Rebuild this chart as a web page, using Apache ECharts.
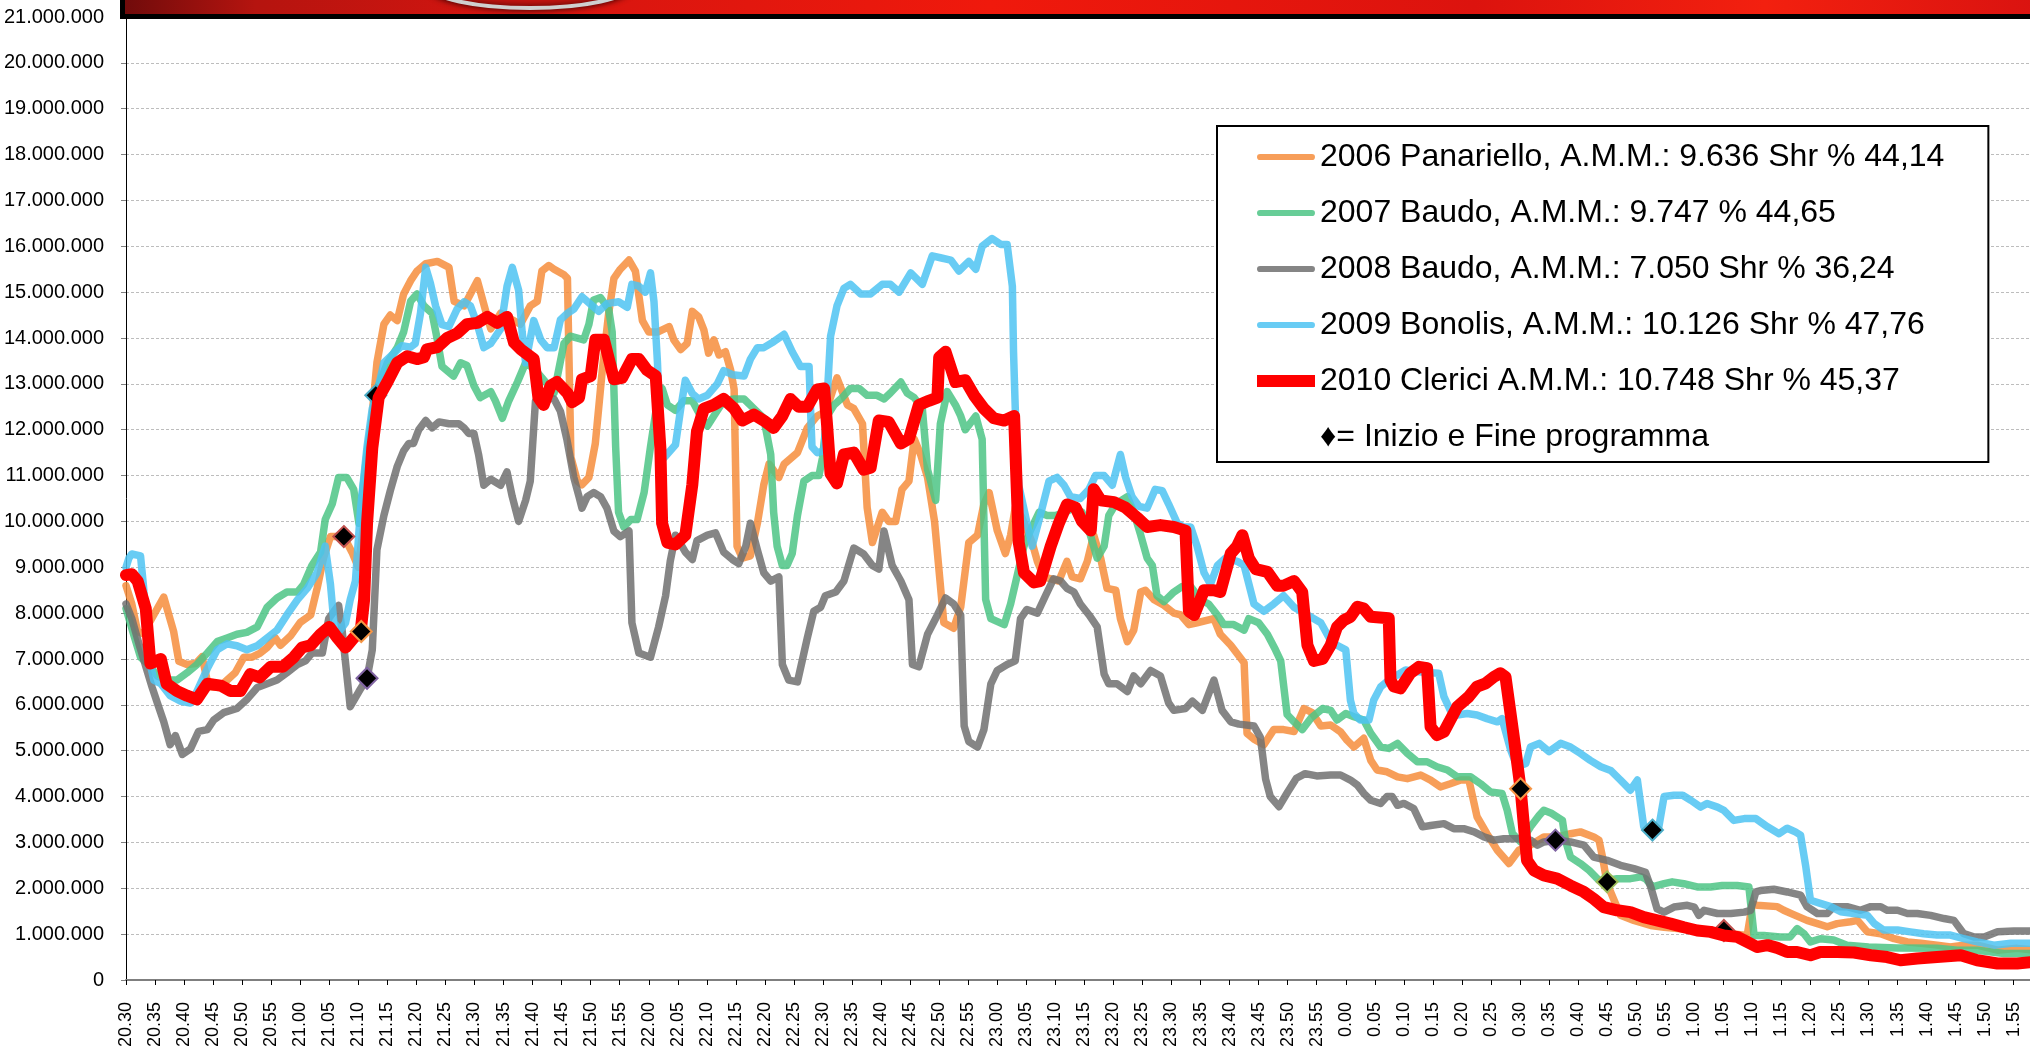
<!DOCTYPE html>
<html>
<head>
<meta charset="utf-8">
<script src="https://cdn.jsdelivr.net/npm/echarts@6/dist/echarts.min.js"></script>
<style>
  html, body { margin: 0; padding: 0; background: #fff; }
  #chart { width: 2030px; height: 1049px; }
</style>
</head>
<body>
<div id="chart"></div>
<script>
// minutes after 20.30, audience in millions
var orange2006 = [[0,8.6],[1,8.2],[2,7.6],[3,7.55],[4.5,7.9],[6.5,8.35],[8.2,7.6],[9.1,6.95],[10.5,6.88],[12,6.9],[13.1,7.05],[14.2,6.4],[16,6.38],[17.4,6.54],[18.8,6.7],[20.3,7.04],[21.7,7.04],[23.1,7.13],[24.3,7.25],[25.7,7.46],[26.6,7.3],[28.3,7.5],[30,7.8],[31.8,7.96],[32.9,8.54],[34,9.2],[35.2,9.67],[37.5,9.67],[38.9,9.33],[40,9.0],[41.5,10.5],[42.5,12.5],[43.2,13.46],[44.4,14.3],[45.5,14.5],[46.7,14.38],[47.8,14.96],[49,15.25],[50.1,15.46],[51.6,15.62],[53.6,15.67],[55.6,15.54],[56.5,14.8],[58.2,14.7],[59.3,14.96],[60.5,15.25],[61.9,14.6],[62.8,14.2],[64.5,14.54],[65.6,14.46],[67.9,14.3],[69.6,14.7],[70.8,14.8],[71.6,15.46],[72.8,15.58],[73.7,15.5],[75.4,15.38],[76,15.3],[76.6,11.4],[77.7,10.88],[78.5,10.8],[79.7,10.96],[80.8,11.7],[82,13.3],[83.1,14.54],[84,15.3],[85.1,15.5],[86.6,15.7],[87.7,15.46],[88.9,14.38],[90,14.13],[91.5,14.13],[93.5,14.25],[94.3,13.96],[95.5,13.75],[96.6,13.88],[97.5,14.58],[98.6,14.46],[99.5,14.17],[100.3,13.67],[101.2,13.96],[102.1,13.63],[103.2,13.7],[104.1,13.3],[104.7,12.88],[105.2,9.46],[106.1,9.2],[107.5,9.25],[108.7,9.96],[109.8,10.8],[110.7,11.25],[112.4,10.96],[113.3,11.25],[115.6,11.5],[117.3,12.04],[119,12.3],[120.5,12.4],[122.4,13.13],[124.2,12.54],[125.3,12.46],[126.8,12.13],[127.6,10.3],[128.5,9.54],[130.2,10.2],[131.3,10.0],[132.5,10.0],[133.6,10.7],[134.8,10.88],[135.7,11.8],[136.8,11.46],[138,10.96],[139.2,10.0],[140.8,7.79],[142.5,7.67],[143.7,8.13],[145.1,9.54],[146.6,9.7],[147.7,10.38],[148.6,10.63],[150,9.8],[151.4,9.3],[152.3,9.7],[153.1,10.3],[154.2,10.1],[156,9.54],[156.9,9.13],[158,8.79],[160.6,8.7],[162,9.13],[162.9,8.79],[164.3,8.75],[165.5,9.13],[166.6,9.7],[167.8,9.2],[168.9,8.54],[170.4,8.5],[171.2,7.88],[172.4,7.38],[173.5,7.63],[174.7,8.46],[175.5,8.5],[177,8.29],[178.7,8.17],[180.4,8.0],[181.6,7.96],[183,7.75],[184.4,7.79],[187.3,7.88],[188.4,7.54],[190.2,7.3],[192.5,6.92],[193,5.38],[194.2,5.25],[195.9,5.13],[197.6,5.46],[199.3,5.46],[201.1,5.42],[202.8,5.92],[204.2,5.83],[205.7,5.54],[207.4,5.56],[209.1,5.41],[210.2,5.23],[211.4,5.08],[213.1,5.27],[214.3,4.79],[215.4,4.58],[217.1,4.54],[218.9,4.43],[220.6,4.39],[222.9,4.47],[224.6,4.36],[226.3,4.21],[228,4.28],[229.8,4.36],[231.2,4.36],[232.6,3.56],[234.3,3.19],[236.1,2.83],[238.1,2.54],[239.8,2.83],[241.8,2.94],[244.1,3.12],[246.4,3.12],[248.7,3.19],[250.4,3.23],[252.7,3.12],[253.6,3.05],[254.2,2.68],[255,2.1],[257.3,1.41],[259.6,1.3],[262.5,1.19],[264.8,1.15],[267.6,1.12],[270.5,1.08],[273.4,1.05],[276.3,1.01],[279.1,0.97],[280,1.66],[280.8,1.63],[284.3,1.6],[285.4,1.52],[287,1.43],[289.4,1.3],[291.2,1.23],[292.9,1.16],[294.6,1.23],[296.9,1.27],[298.1,1.3],[299.8,1.05],[302.1,1.01],[304.4,0.9],[306.7,0.83],[309,0.8],[311.8,0.76],[314.1,0.72],[316.4,0.76],[318.7,0.76],[322.2,0.65],[325.6,0.69],[328,0.66]];

var green2007 = [[0,8.1],[1.3,7.54],[2.5,7.04],[3.9,6.88],[5.4,6.63],[7.1,6.54],[8.8,6.54],[10.5,6.7],[12.2,6.88],[14,7.13],[15.7,7.38],[17.4,7.46],[19.1,7.54],[20.8,7.58],[22.6,7.7],[24.3,8.13],[26,8.33],[27.7,8.46],[29.5,8.46],[30.6,8.63],[32,9.04],[33.5,9.33],[34.3,10.04],[35.5,10.38],[36.6,10.96],[38,10.96],[39.2,10.7],[40.1,9.96],[41.5,11.5],[43,12.8],[45,13.46],[46.7,13.79],[47.8,14.13],[49,14.8],[50.1,14.96],[51.3,14.7],[52.7,14.54],[53.6,13.96],[54.4,13.38],[56.4,13.17],[57.6,13.46],[58.7,13.4],[59.9,12.96],[61,12.7],[62.8,12.83],[63.6,12.63],[64.8,12.25],[65.9,12.63],[67.4,13.04],[68.8,13.46],[70.5,13.3],[72.5,13.0],[73.7,12.8],[75.4,13.88],[76.5,14.04],[78.8,13.96],[79.7,14.3],[80.5,14.83],[81.7,14.88],[83.1,14.63],[83.7,14.13],[84.3,11.63],[84.8,10.2],[85.7,9.88],[86.9,10.04],[88,10.04],[89.2,10.63],[90.3,11.63],[91.2,12.38],[92.3,12.9],[93.2,12.54],[94.6,12.42],[96,12.63],[97.5,12.63],[98.9,12.3],[100.1,12.08],[101.2,12.3],[102.9,12.63],[104.7,12.67],[106.4,12.67],[108.1,12.46],[109.8,12.25],[111,11.46],[111.5,10.2],[112.1,9.46],[113,9.04],[113.8,9.04],[114.7,9.3],[115.6,10.13],[116.7,10.88],[118.1,11.0],[119.3,11.0],[119.9,11.38],[120.7,12.3],[121.9,12.54],[123.3,12.7],[124.7,12.9],[126.2,12.9],[127.6,12.75],[129.3,12.75],[130.5,12.67],[131.6,12.8],[133.4,13.04],[134.5,12.8],[135.7,12.7],[137.1,12.46],[138,11.13],[139.4,10.46],[140.2,12.13],[141.4,12.83],[142.8,12.54],[143.7,12.3],[144.5,12.0],[146.3,12.3],[147.4,11.79],[148,8.3],[148.9,7.88],[151.2,7.75],[152.3,8.2],[153.4,8.8],[154.6,9.46],[155.7,9.8],[157.2,10.2],[158.6,10.13],[160,10.13],[161.7,10.2],[163.2,10.3],[164.6,10.2],[165.8,9.8],[167.2,9.2],[168.4,9.46],[169.2,10.13],[170.4,10.38],[172.4,10.54],[173.5,10.2],[174.7,9.7],[175.8,9.2],[176.7,9.04],[177.5,8.38],[178.7,8.25],[180.4,8.46],[181.8,8.58],[183.3,8.58],[185,8.29],[186.4,8.2],[187.9,7.96],[189,7.75],[190.7,7.75],[192.5,7.63],[193.3,7.88],[195,7.79],[196.5,7.54],[197.9,7.2],[198.8,6.96],[199.9,5.79],[201.1,5.63],[202.5,5.46],[204,5.71],[206,5.92],[207.4,5.88],[208.5,5.67],[210,5.81],[211.4,5.74],[213.1,5.67],[214.3,5.38],[216,5.08],[217.4,5.05],[218.9,5.16],[220.6,4.94],[222.3,4.76],[224,4.76],[225.7,4.65],[227.5,4.58],[229.2,4.43],[231.5,4.43],[233.2,4.28],[234.9,4.1],[236.9,4.07],[237.8,3.7],[238.7,3.19],[240.1,3.01],[241.8,3.34],[243.3,3.59],[244.1,3.7],[245.5,3.63],[247.3,3.48],[247.8,3.05],[248.7,2.68],[250.4,2.54],[251.9,2.39],[253.6,2.17],[255,2.17],[256.7,2.21],[259,2.21],[260.8,2.25],[261.6,2.21],[262.8,2.03],[264.8,2.1],[266.2,2.14],[268.2,2.1],[270.5,2.03],[272.8,2.03],[274.8,2.06],[277.4,2.06],[279.4,2.03],[280.3,0.97],[282,0.97],[284.8,0.94],[286.5,0.94],[287.7,1.12],[288.9,1.01],[290,0.83],[291.7,0.9],[294,0.87],[296.3,0.76],[300,0.72],[305,0.7],[311.8,0.69],[315.3,0.65],[318.7,0.65],[323.3,0.58],[328,0.58]];

var grey2008 = [[0,8.2],[1,7.88],[2.3,7.3],[3.9,6.63],[4.5,6.38],[5.4,6.04],[6.5,5.63],[7.6,5.13],[8.5,5.33],[9.7,4.92],[11.1,5.04],[12.5,5.42],[14,5.46],[15.1,5.67],[16.8,5.83],[19.1,5.92],[20.9,6.13],[22.6,6.38],[24.3,6.46],[26,6.54],[27.7,6.7],[29.5,6.88],[30.9,6.96],[32,7.13],[33.8,7.13],[34.9,7.88],[35.8,8.04],[36.6,8.17],[37.2,7.63],[38.6,5.96],[40.1,6.29],[41.5,6.58],[42.4,7.2],[43.2,9.38],[44.4,10.13],[45.5,10.67],[46.7,11.2],[47.8,11.54],[48.7,11.7],[49.5,11.7],[50.4,12.0],[51.6,12.2],[52.7,12.04],[53.9,12.17],[55.6,12.13],[57.3,12.13],[58.2,12.04],[59,11.92],[59.9,11.92],[60.7,11.46],[61.6,10.79],[62.8,10.92],[64.5,10.79],[65.6,11.08],[66.5,10.54],[67.6,10.0],[68.8,10.46],[69.6,10.88],[70.5,12.63],[71.4,12.7],[73.7,12.67],[74.8,12.4],[75.9,11.79],[77.1,10.96],[78,10.54],[78.5,10.29],[79.4,10.54],[80.5,10.63],[81.7,10.54],[82.8,10.29],[84,9.79],[85.1,9.67],[86.6,9.79],[87.1,7.79],[88.3,7.13],[90.3,7.04],[91.7,7.7],[92.9,8.38],[93.7,9.13],[94.6,9.7],[96.3,9.33],[97.5,9.17],[98.3,9.58],[100.1,9.7],[101.5,9.75],[102.9,9.33],[104.4,9.17],[105.5,9.08],[106.7,9.46],[107.5,9.96],[108.7,9.38],[109.8,8.88],[111,8.7],[112.4,8.79],[113,6.88],[114.1,6.54],[115.6,6.5],[117.3,7.46],[118.4,8.04],[119.6,8.13],[120.4,8.38],[122.2,8.46],[123.6,8.7],[125.3,9.42],[127,9.29],[128.5,9.04],[129.6,8.96],[130.5,9.79],[131.9,9.04],[133.4,8.7],[134.8,8.29],[135.4,6.88],[136.5,6.83],[138,7.54],[139.7,7.96],[141.1,8.33],[142.5,8.2],[143.7,7.96],[144.3,5.54],[145.1,5.2],[146.6,5.08],[147.7,5.46],[148.9,6.46],[150,6.75],[151.7,6.88],[153.1,6.96],[154,7.88],[155.1,8.08],[156.9,8.0],[158.3,8.38],[159.7,8.75],[160.9,8.7],[162,8.54],[163.2,8.46],[164.3,8.2],[165.8,7.96],[167.2,7.7],[168.4,6.67],[169.2,6.46],[170.6,6.46],[172.4,6.29],[173.5,6.63],[174.7,6.46],[176.4,6.75],[178.1,6.63],[179.5,6.04],[180.4,5.88],[182.4,5.92],[183.6,6.08],[185.3,5.88],[187.3,6.54],[188.7,5.88],[190.2,5.63],[191.6,5.58],[194.2,5.54],[195.3,5.29],[196.2,4.38],[197,4.0],[198.5,3.78],[200,4.1],[201.5,4.4],[203,4.5],[205,4.45],[207.4,4.47],[209.1,4.47],[210.8,4.36],[212,4.25],[213.1,4.07],[214.3,3.92],[216,3.85],[217.1,4.0],[218,4.0],[218.9,3.81],[220,3.85],[221.7,3.74],[223.2,3.34],[224.6,3.37],[226.9,3.41],[228.6,3.3],[230.3,3.3],[232.1,3.23],[233.8,3.12],[235.5,3.05],[237.2,3.08],[239.5,3.08],[241.8,3.05],[243,2.94],[244.1,3.01],[246.4,3.05],[248.7,3.01],[251,2.94],[252.7,2.68],[255,2.61],[257.3,2.5],[259.6,2.43],[261.6,2.35],[262.5,2.03],[263.6,1.55],[264.8,1.48],[266.5,1.59],[268.8,1.63],[270,1.59],[270.8,1.41],[271.7,1.52],[274,1.45],[276.3,1.45],[278.6,1.48],[279.7,1.52],[280.6,1.92],[281.4,1.95],[283.7,1.98],[286,1.92],[288.3,1.85],[289.4,1.6],[291.2,1.45],[292.9,1.45],[294,1.6],[296.3,1.6],[298.6,1.52],[300.4,1.6],[302.1,1.6],[303.2,1.52],[305,1.52],[306.7,1.45],[308.4,1.45],[310.7,1.41],[313,1.34],[314.7,1.3],[316.4,1.01],[318.1,0.94],[319.9,0.94],[322.2,1.05],[325,1.07],[328,1.07]];

var blue2009 = [[0,9.0],[0.5,9.2],[1,9.29],[2.5,9.25],[3,8.6],[3.9,7.04],[4.8,6.54],[6,6.46],[7.6,6.2],[9.4,6.08],[11.1,6.04],[12.2,6.29],[14,6.79],[15.7,7.2],[17.4,7.33],[19.1,7.29],[20.8,7.2],[22.6,7.29],[24.3,7.46],[26,7.63],[27.7,7.96],[29.5,8.29],[31.2,8.54],[32.9,8.88],[34.3,9.46],[35.2,8.63],[35.8,7.79],[36.9,7.63],[37.8,7.79],[38.6,8.29],[39.5,8.7],[40.4,10.3],[41.5,11.63],[42.4,12.46],[43.2,12.79],[44.4,13.46],[46.1,13.67],[47.5,13.83],[49,13.8],[49.8,13.88],[50.7,14.54],[51.6,15.54],[52.4,15.2],[53.3,14.7],[54.4,14.29],[55.6,14.25],[57,14.63],[58.2,14.79],[59.3,14.7],[60.5,14.29],[61.6,13.79],[62.8,13.88],[64.5,14.2],[65.6,15.13],[66.5,15.54],[67.6,15.04],[68.2,14.13],[68.8,13.46],[70.2,14.38],[71.4,13.96],[72.5,13.79],[73.7,13.79],[74.8,14.4],[76,14.54],[77.1,14.63],[78.5,14.9],[80.3,14.7],[81.4,14.58],[82.8,14.75],[84.8,14.79],[86.3,14.67],[87.1,15.17],[88.3,15.13],[89.4,15.0],[90.3,15.42],[90.9,14.79],[91.5,13.46],[92,11.88],[92.6,11.38],[93.7,11.54],[94.6,11.67],[95.5,12.46],[96.3,13.08],[97.5,12.79],[98.6,12.67],[100.1,12.75],[101.8,13.0],[102.9,13.29],[104.4,13.2],[106.4,13.17],[107.5,13.54],[108.7,13.79],[109.8,13.79],[111.5,13.92],[113.3,14.08],[114.7,13.7],[116.1,13.38],[117.6,13.38],[117.9,12.29],[118.1,11.63],[119,11.5],[120.2,11.54],[121.3,14.04],[122.4,14.7],[123.6,15.08],[124.7,15.17],[126.5,14.96],[128.2,14.96],[130.2,15.17],[131.6,15.17],[133.1,15.0],[135.1,15.42],[137.1,15.17],[138.8,15.79],[140.2,15.75],[142,15.7],[143.4,15.46],[145.1,15.67],[146.3,15.5],[147.4,16.0],[149.1,16.17],[150.6,16.04],[151.7,16.04],[152.6,15.13],[152.8,13.7],[153.1,12.46],[153.7,10.79],[156,9.46],[157.4,10.13],[158.9,10.88],[160.3,10.96],[161.5,10.79],[162.6,10.54],[164.3,10.5],[165.8,10.7],[166.9,11.0],[168.4,11.0],[169.8,10.79],[171.2,11.46],[172.1,10.96],[173.2,10.54],[174.4,10.33],[175.8,10.29],[177.2,10.7],[178.4,10.67],[179.5,10.38],[181,9.96],[182.1,9.88],[183.3,9.88],[184.4,9.46],[185.6,8.88],[186.7,8.63],[187.9,9.04],[189.3,9.2],[191.3,9.13],[192.5,9.04],[194.2,8.2],[195.9,8.04],[197.6,8.2],[199.3,8.38],[201.1,8.13],[203.4,7.96],[205.7,7.79],[207.4,7.4],[208.5,7.3],[210,7.2],[210.8,6.1],[211.4,5.81],[212.5,5.67],[214,5.67],[214.8,6.1],[216,6.39],[217.4,6.54],[218.9,6.65],[220.3,6.76],[222.5,6.72],[224.6,6.7],[226,6.69],[226.9,6.18],[228,5.88],[229.2,5.78],[230.9,5.81],[232.6,5.78],[234.3,5.7],[236.1,5.63],[236.9,5.7],[238.4,5.01],[239.5,4.65],[241,4.72],[241.8,5.08],[243.3,5.16],[245,4.98],[247,5.16],[248.7,5.08],[250.4,4.94],[252.1,4.79],[253.9,4.65],[255.6,4.57],[257.3,4.36],[259,4.14],[260.2,4.36],[261.3,3.34],[262.8,3.27],[263.9,3.34],[264.8,4.0],[266.5,4.03],[268,4.03],[269.4,3.92],[271.1,3.77],[272.2,3.85],[274,3.77],[275.1,3.7],[276.8,3.48],[278.6,3.52],[280.6,3.52],[282.6,3.34],[284.6,3.19],[286,3.31],[287.4,3.23],[288.3,3.16],[289.2,2.47],[290,1.74],[291.7,1.67],[293.5,1.6],[295.2,1.49],[297.5,1.45],[299.8,1.41],[301,1.23],[302.6,1.09],[305,1.09],[307.2,1.05],[309.5,1.01],[311.8,0.98],[314.1,0.98],[316.4,0.9],[318.7,0.83],[321.6,0.76],[324.5,0.8],[328,0.8]];

var red2010 = [[0,8.83],[1,8.85],[2,8.7],[3.4,8.1],[4.2,6.9],[6,7.0],[7,6.46],[8.8,6.3],[10.5,6.2],[12.2,6.12],[14,6.46],[16.3,6.42],[18,6.3],[19.7,6.3],[21.4,6.67],[23,6.6],[24.9,6.83],[27,6.83],[28.9,7.04],[30.3,7.25],[31.8,7.3],[33.5,7.54],[35,7.7],[36.4,7.46],[37.8,7.25],[39.2,7.46],[40.4,7.6],[41,8.3],[41.5,9.96],[42.4,11.6],[43.5,12.7],[45,13.04],[46.7,13.46],[48.4,13.6],[50.1,13.54],[51.3,13.58],[51.8,13.75],[53.6,13.8],[55.3,14.0],[57,14.1],[58.7,14.3],[60.5,14.33],[62.2,14.46],[63.9,14.33],[65.6,14.46],[66.8,13.9],[68,13.75],[70.2,13.54],[71,12.7],[71.9,12.54],[73.1,12.96],[74.2,13.04],[76,12.8],[76.8,12.6],[78,12.7],[78.5,13.1],[80,13.17],[80.8,13.96],[82.3,13.96],[84,13.1],[85.4,13.13],[87.1,13.54],[88.3,13.54],[89.7,13.3],[91.2,13.17],[92,11.6],[92.3,9.96],[93.2,9.54],[94.6,9.5],[96.3,9.7],[97.5,10.8],[98.3,11.96],[99.5,12.46],[101.2,12.54],[102.9,12.67],[104.7,12.46],[106.1,12.2],[108.1,12.33],[109.8,12.2],[111.5,12.04],[113,12.3],[114.4,12.67],[115.8,12.5],[117.3,12.5],[119,12.88],[120.2,12.9],[120.7,12.1],[121.3,11.04],[122.4,10.83],[123.6,11.46],[125.3,11.5],[127,11.13],[128.2,11.17],[129.6,12.2],[131.3,12.17],[133.4,11.7],[134.8,11.8],[136.5,12.54],[138.2,12.63],[139.7,12.7],[140,13.58],[141.1,13.7],[142.8,13.04],[144.5,13.08],[146,12.75],[147.7,12.46],[149.4,12.25],[151.2,12.2],[152.9,12.3],[153.7,9.54],[154.6,8.88],[156.3,8.67],[157.4,8.7],[159.2,9.46],[160.6,9.96],[162,10.37],[163.5,10.3],[164.6,10.0],[166.1,9.8],[166.6,10.7],[167.8,10.46],[170.1,10.42],[172.1,10.3],[174.1,10.08],[175.8,9.88],[178.1,9.92],[180.4,9.88],[182.4,9.8],[183,8.04],[183.9,7.96],[185.6,8.5],[187.3,8.5],[188.4,8.46],[190.2,9.3],[191.3,9.46],[192.2,9.7],[193.3,9.2],[194.5,8.96],[196.5,8.9],[198.2,8.6],[199.3,8.6],[201.1,8.7],[202.5,8.46],[203.4,7.3],[204.5,6.96],[206,7.0],[207.4,7.3],[208.5,7.7],[209.7,7.85],[210.8,7.92],[212,8.14],[213.1,8.1],[214.3,7.92],[217.4,7.89],[217.7,6.54],[218.3,6.4],[219.4,6.36],[221.1,6.69],[222.6,6.83],[224,6.8],[224.6,5.52],[225.7,5.34],[226.9,5.41],[229.2,5.96],[231.2,6.18],[232.6,6.4],[234.1,6.47],[235.5,6.61],[236.6,6.69],[237.5,6.61],[239,5.23],[240.1,4.17],[241.2,2.61],[242.4,2.39],[244.1,2.28],[246.4,2.21],[248.7,2.06],[251,1.92],[252.7,1.77],[254.4,1.59],[256.7,1.52],[259,1.48],[261.3,1.37],[263.6,1.3],[265.9,1.23],[268.2,1.15],[270.5,1.08],[272.8,1.05],[275.1,0.97],[277.4,0.94],[279.1,0.83],[280.8,0.72],[282.6,0.76],[284.3,0.7],[286,0.61],[287.7,0.61],[290,0.54],[291.7,0.61],[294.6,0.61],[297.5,0.6],[300.4,0.54],[303.2,0.5],[305.5,0.43],[308.4,0.47],[311.8,0.5],[315.9,0.54],[318.7,0.43],[322.2,0.36],[325.6,0.36],[328,0.39]];

// start / end of programme: [minute, millions, marker group]
// group 0: 2006, 1: 2010 (drawn above the red line), 2: 2007, 3: 2008, 4: 2009
var markerPoints = [[37.5,9.67,0],[41.5,6.58,3],[43,12.75,4],[246.1,3.05,3],[255,2.14,2],[262.8,3.27,4],[275.1,1.08,0],[40.5,7.6,1],[240.1,4.17,1]];
var markerBorders = ['#C0504D', '#F79646', '#9BBB59', '#8064A2', '#4BACC6'];

var xTickLabels = ['20.30','20.35','20.40','20.45','20.50','20.55','21.00','21.05','21.10','21.15','21.20','21.25','21.30','21.35','21.40','21.45','21.50','21.55','22.00','22.05','22.10','22.15','22.20','22.25','22.30','22.35','22.40','22.45','22.50','22.55','23.00','23.05','23.10','23.15','23.20','23.25','23.30','23.35','23.40','23.45','23.50','23.55','0.00','0.05','0.10','0.15','0.20','0.25','0.30','0.35','0.40','0.45','0.50','0.55','1.00','1.05','1.10','1.15','1.20','1.25','1.30','1.35','1.40','1.45','1.50','1.55'];

var seriesNames = [
  '2006 Panariello, A.M.M.: 9.636 Shr % 44,14',
  '2007 Baudo, A.M.M.: 9.747 % 44,65',
  '2008 Baudo, A.M.M.: 7.050 Shr % 36,24',
  '2009 Bonolis, A.M.M.: 10.126 Shr % 47,76',
  '2010 Clerici A.M.M.: 10.748 Shr % 45,37'
];
var markerName = '\u2666= Inizio e Fine programma';

var colors = ['#F68D3C', '#4CC485', '#707070', '#4DC3F2', '#FF0000'];
var FONT = '"Liberation Sans", Arial, sans-serif';

function toPts(arr) {
  return arr.map(function (p) { return [p[0], p[1] * 1e6]; });
}

function fmtMillions(v) {
  if (v === 0) return '0';
  return String(Math.round(v)).replace(/\B(?=(\d{3})+(?!\d))/g, '.');
}

function lineSeries(idx, arr) {
  return {
    name: seriesNames[idx],
    type: 'line',
    z: idx === 4 ? 3 : 2,
    data: toPts(arr),
    symbol: 'none',
    showSymbol: false,
    lineStyle: {
      color: colors[idx],
      width: idx === 4 ? 12 : 7.5,
      opacity: idx === 4 ? 1 : 0.85,
      cap: 'round',
      join: 'round'
    },
    itemStyle: { color: colors[idx] }
  };
}

function markerSeries(onTop) {
  return {
    name: markerName,
    type: 'scatter',
    z: onTop ? 4 : 2,
    symbol: 'diamond',
    symbolSize: 21,
    itemStyle: { color: '#000', borderWidth: 2, opacity: 1 },
    data: markerPoints.filter(function (m) { return (m[2] === 1) === onTop; }).map(function (m) {
      return { value: [m[0], m[1] * 1e6], itemStyle: { color: '#000', borderColor: markerBorders[m[2]] } };
    })
  };
}

var chartDom = document.getElementById('chart');
var chart = echarts.init(chartDom, null, { renderer: 'canvas' });

// rounded bar used as legend swatch for the thin lines
var roundBar = 'path://M3,0 L53,0 A3,3 0 0 1 53,6 L3,6 A3,3 0 0 1 3,0 Z';
var legendData = seriesNames.map(function (n, i) {
  return {
    name: n,
    icon: i === 4 ? 'rect' : roundBar,
    itemStyle: { color: colors[i], opacity: i === 4 ? 1 : 0.85, borderWidth: 0 }
  };
});
legendData.push({ name: markerName, icon: 'rect', itemStyle: { opacity: 0, color: 'rgba(0,0,0,0)', borderWidth: 0 } });

var option = {
  animation: false,
  backgroundColor: '#fff',
  grid: { left: 126, right: 0, top: 17, bottom: 69, containLabel: false, outerBoundsMode: 'none' },
  legend: {
    orient: 'vertical',
    left: 1217,
    top: 126,
    padding: [13, 44, 7, 40],
    itemGap: 20,
    itemWidth: 58,
    itemHeight: 12,
    symbolKeepAspect: true,
    backgroundColor: '#fff',
    borderColor: '#000',
    borderWidth: 2,
    selectedMode: false,
    textStyle: { fontSize: 32, fontFamily: FONT, color: '#000', lineHeight: 36 },
    data: legendData
  },
  xAxis: {
    type: 'value',
    min: 0,
    max: 327.8,
    interval: 5,
    axisLine: { show: true, onZero: true, lineStyle: { color: '#7f7f7f', width: 2 } },
    axisTick: { show: true, length: 5, lineStyle: { color: '#000' } },
    splitLine: { show: false },
    axisLabel: {
      rotate: 90,
      margin: 22,
      fontSize: 18,
      fontFamily: FONT,
      color: '#000',
      formatter: function (v) {
        var i = Math.round(v / 5);
        if (Math.abs(v - i * 5) > 1e-6) return '';
        return xTickLabels[i] || '';
      }
    }
  },
  yAxis: {
    type: 'value',
    min: 0,
    max: 21e6,
    interval: 1e6,
    axisLine: { show: true, lineStyle: { color: '#000', width: 1 } },
    axisTick: { show: true, length: 5, lineStyle: { color: '#808080' } },
    splitLine: { show: true, lineStyle: { color: '#bdbdbd', width: 1, type: [3, 2] } },
    axisLabel: { margin: 22, fontSize: 20, fontFamily: FONT, color: '#000', formatter: fmtMillions }
  },
  graphic: [
    {
      type: 'rect',
      z: 10,
      shape: { x: 122.5, y: -10, width: 1930, height: 26.5 },
      style: {
        fill: {
          type: 'linear', x: 0, y: 0, x2: 1, y2: 0,
          colorStops: [
            { offset: 0, color: '#6e0b0b' },
            { offset: 0.07, color: '#b5140f' },
            { offset: 0.2, color: '#d41510' },
            { offset: 0.45, color: '#f0190c' },
            { offset: 0.7, color: '#dc130e' },
            { offset: 0.85, color: '#f3200f' },
            { offset: 1, color: '#d81210' }
          ]
        },
        stroke: '#000',
        lineWidth: 5
      }
    },
    {
      type: 'ellipse',
      z: 11,
      shape: { cx: 530, cy: -14, rx: 100, ry: 22 },
      style: { fill: '#c41410', stroke: '#cfcfcf', lineWidth: 4, shadowBlur: 6, shadowColor: '#3a0000' }
    }
  ],
  series: [
    lineSeries(0, orange2006),
    lineSeries(1, green2007),
    lineSeries(2, grey2008),
    lineSeries(3, blue2009),
    markerSeries(false),
    lineSeries(4, red2010),
    markerSeries(true)
  ]
};

chart.setOption(option);
</script>
</body>
</html>
